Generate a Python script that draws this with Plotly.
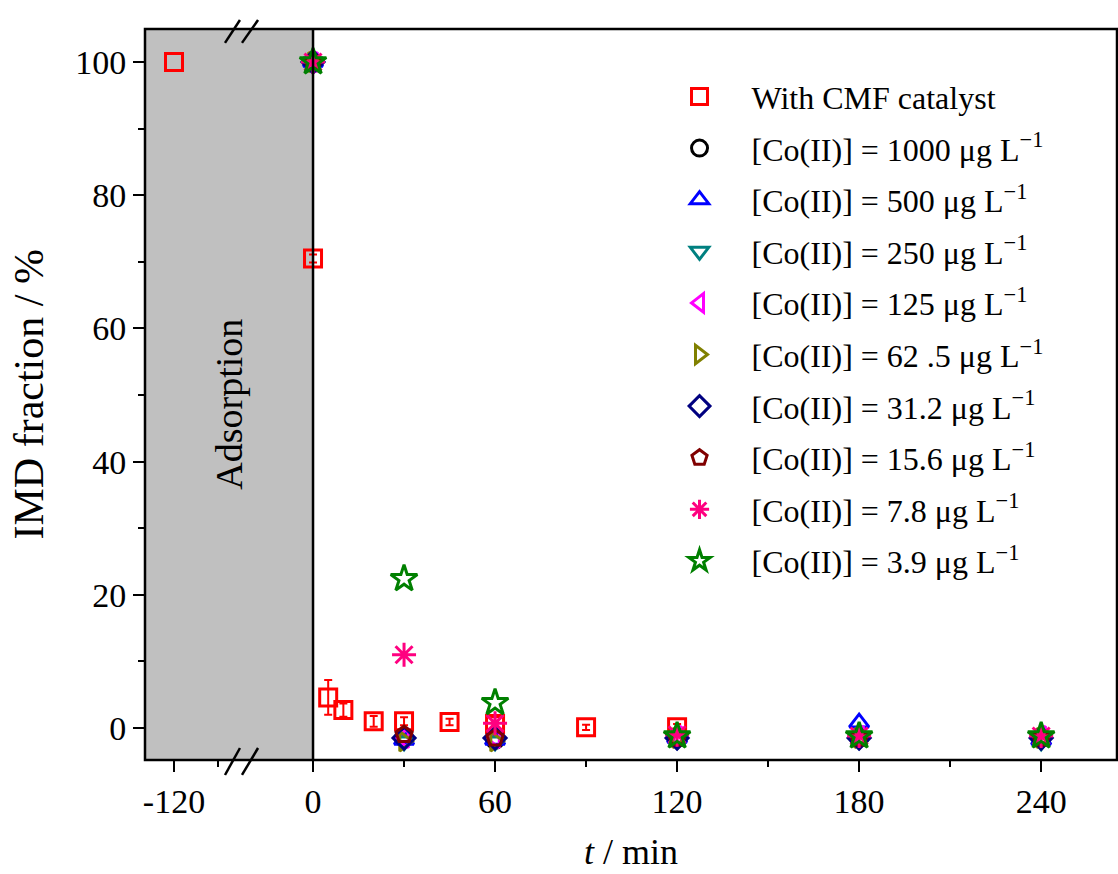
import plotly.graph_objects as go

# ---------------- data ----------------
red_t_left = [-120]
red_y_left = [100]
red_t = [0, 5, 10, 20, 30, 45, 60, 90, 120]
red_y = [70.5, 4.6, 2.7, 1.0, 1.0, 0.9, 0.6, 0.1, 0.1]
red_err = [0.6, 2.6, 1.0, 0.8, 0.6, 0.5, 1.0, 0.4, 0.5]

t_co = [0, 30, 60, 120, 180, 240]
co_1000 = [100, -1.5, -1.8, -1.5, -1.5, -1.5]
co_500 = [100, -1.8, -1.8, -1.5, 0.8, -1.8]
co_250 = [100, -2.0, -2.0, -1.8, -1.8, -2.0]
co_125 = [100, -1.5, -1.5, -1.2, -1.2, -1.2]
co_62_5 = [100, -2.0, -2.0, -1.5, -1.5, -1.5]
co_31_2 = [100, -1.5, -1.5, -1.5, -1.5, -1.5]
co_15_6 = [100, -1.0, -1.5, -1.5, -1.5, -1.5]
co_7_8 = [100, 11.0, 0.7, -1.0, -1.2, -1.2]
co_3_9 = [100, 22.4, 3.8, -1.2, -1.2, -1.2]

series = [
    ("[Co(II)] = 1000 μg L<sup>−1</sup>", co_1000, "circle-open", "#000000"),
    ("[Co(II)] = 500 μg L<sup>−1</sup>", co_500, "triangle-up-open", "#0000FF"),
    ("[Co(II)] = 250 μg L<sup>−1</sup>", co_250, "triangle-down-open", "#008080"),
    ("[Co(II)] = 125 μg L<sup>−1</sup>", co_125, "triangle-left-open", "#FF00FF"),
    ("[Co(II)] = 62 .5 μg L<sup>−1</sup>", co_62_5, "triangle-right-open", "#808000"),
    ("[Co(II)] = 31.2 μg L<sup>−1</sup>", co_31_2, "diamond-open", "#000080"),
    ("[Co(II)] = 15.6 μg L<sup>−1</sup>", co_15_6, "pentagon-open", "#800000"),
    ("[Co(II)] = 7.8 μg L<sup>−1</sup>", co_7_8, "asterisk-open", "#FF0080"),
    ("[Co(II)] = 3.9 μg L<sup>−1</sup>", co_3_9, "star-open", "#008000"),
]

x_left_ticks = [-120]
x_left_minor = [-90]
x_right_ticks = [0, 60, 120, 180, 240]
x_right_minor = [30, 90, 150, 210]
y_ticks = [0, 20, 40, 60, 80, 100]

FONT = "Liberation Serif"
MS = 17
LW = 3

fig = go.Figure()

# red series (with catalyst)
fig.add_trace(go.Scatter(
    x=red_t_left, y=red_y_left, xaxis="x", yaxis="y", mode="markers",
    name="With CMF catalyst", legendgroup="g0", showlegend=False,
    marker=dict(symbol="square-open", size=MS, color="#FF0000", line=dict(width=LW, color="#FF0000")),
))
fig.add_trace(go.Scatter(
    x=red_t, y=red_y, xaxis="x2", yaxis="y", mode="markers",
    name="With CMF catalyst", legendgroup="g0",
    error_y=dict(type="data", array=red_err, color="#FF0000", thickness=2, width=4),
    marker=dict(symbol="square-open", size=MS, color="#FF0000", line=dict(width=LW, color="#FF0000")),
))

for i, (name, vals, sym, col) in enumerate(series):
    size = MS + 3 if sym in ("asterisk-open", "star-open") else MS
    fig.add_trace(go.Scatter(
        x=t_co, y=vals, xaxis="x2", yaxis="y", mode="markers",
        name=name, legendgroup=f"g{i+1}",
        marker=dict(symbol=sym, size=size, color=col, line=dict(width=LW, color=col)),
    ))

split = (243 - 145) / 972.0
left_range = [-139.77, -72.95]
right_range = [-23.08, 265.0]

tickfont = dict(family=FONT, size=34, color="black")
common_x = dict(ticks="outside", ticklen=11, tickwidth=2, tickcolor="black",
                showgrid=False, zeroline=False, showline=False, tickfont=tickfont)

shapes = [
    # grey adsorption region
    dict(type="rect", xref="x", yref="paper", x0=left_range[0], x1=left_range[1], y0=0, y1=1,
         fillcolor="#C0C0C0", line=dict(width=0), layer="below"),
    dict(type="rect", xref="x2", yref="paper", x0=right_range[0], x1=0, y0=0, y1=1,
         fillcolor="#C0C0C0", line=dict(width=0), layer="below"),
    # vertical line at t = 0
    dict(type="line", xref="x2", yref="paper", x0=0, x1=0, y0=0, y1=1,
         line=dict(color="black", width=2.5), layer="above"),
    # frame
    dict(type="rect", xref="paper", yref="paper", x0=0, x1=1, y0=0, y1=1,
         line=dict(color="black", width=2.5), layer="above"),
]
# axis break marks
for (yb0, yb1) in [(-0.0205, 0.0164), (0.981, 1.0123)]:
    for (xa, xb) in [(0.0823, 0.0977), (0.0998, 0.1163)]:
        shapes.append(dict(type="line", xref="paper", yref="paper", x0=xa, x1=xb, y0=yb0, y1=yb1,
                           line=dict(color="black", width=2.5), layer="above"))

fig.update_layout(
    width=1118, height=874,
    margin=dict(l=145, r=1, t=29, b=114),
    paper_bgcolor="white", plot_bgcolor="white",
    font=dict(family=FONT, color="black"),
    showlegend=True,
    xaxis=dict(domain=[0, split], range=left_range, tickmode="array", tickvals=x_left_ticks,
               ticktext=["-120"],
               minor=dict(tickmode="array", tickvals=x_left_minor, ticks="outside", ticklen=6,
                          tickwidth=2, tickcolor="black"),
               **common_x),
    xaxis2=dict(domain=[split, 1], range=right_range, anchor="y", tickmode="array",
                tickvals=x_right_ticks,
                minor=dict(tickmode="array", tickvals=x_right_minor, ticks="outside", ticklen=6,
                           tickwidth=2, tickcolor="black"),
                **common_x),
    yaxis=dict(range=[-4.8, 104.95], tickmode="array", tickvals=y_ticks, ticks="outside",
               ticklen=11, tickwidth=2, tickcolor="black", showgrid=False, zeroline=False,
               showline=False, tickfont=tickfont,
               minor=dict(tickmode="array", tickvals=[10, 30, 50, 70, 90], ticks="outside",
                          ticklen=6, tickwidth=2, tickcolor="black")),
    legend=dict(x=0.517, y=0.945, xanchor="left", yanchor="top", bgcolor="rgba(0,0,0,0)",
                font=dict(family=FONT, size=32, color="black"), itemwidth=94,
                traceorder="grouped", tracegroupgap=7),
    shapes=shapes,
    annotations=[
        dict(text="<i>t</i> / min", xref="paper", yref="paper", x=0.5, y=0, yshift=-92,
             showarrow=False, font=dict(family=FONT, size=36, color="black"), yanchor="middle"),
        dict(text="IMD fraction / %", xref="paper", yref="paper", x=0, y=0.5, xshift=-117,
             showarrow=False, textangle=-90, font=dict(family=FONT, size=42, color="black"),
             xanchor="center", yanchor="middle"),
        dict(text="Adsorption", xref="paper", yref="paper", x=(229 - 145) / 972.0, y=0.486,
             showarrow=False, textangle=-90, font=dict(family=FONT, size=38, color="black"),
             xanchor="center", yanchor="middle"),
    ],
)

fig.write_html("out.html")
